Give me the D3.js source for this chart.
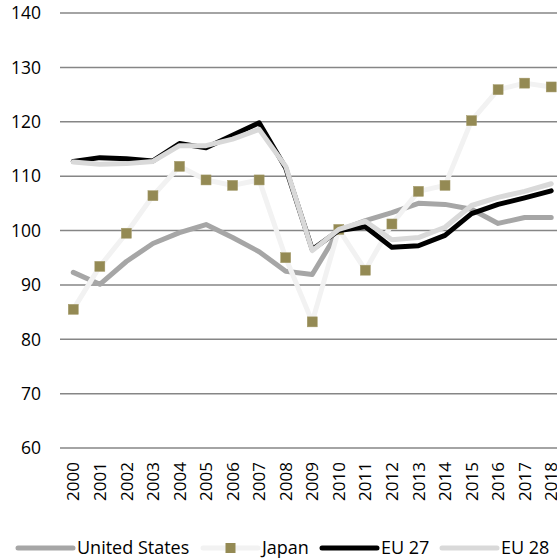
<!DOCTYPE html>
<html><head><meta charset="utf-8">
<script src="https://cdn.jsdelivr.net/npm/d3@7"></script>
<style>body{margin:0;background:#fff}svg{display:block}text{font-family:"Open Sans",sans-serif;fill:#000}</style>
</head><body><svg id="c" width="557" height="560"></svg>
<script>
const years = ["2000","2001","2002","2003","2004","2005","2006","2007","2008","2009","2010","2011","2012","2013","2014","2015","2016","2017","2018"];
const unitedStates = [92.3,90.1,94.3,97.6,99.6,101.1,98.7,96.1,92.5,91.9,100.0,101.8,103.3,105.0,104.8,103.9,101.3,102.4,102.4];
const japan = [85.5,93.4,99.5,106.4,111.8,109.3,108.3,109.3,95.0,83.2,100.2,92.7,101.2,107.2,108.3,120.2,125.9,127.1,126.4];
const eu27 = [112.7,113.4,113.2,112.8,116.0,115.2,117.5,119.8,111.5,96.5,100.0,100.7,96.9,97.2,99.1,103.1,104.8,106.0,107.3];
const eu28 = [112.6,112.2,112.3,112.7,115.6,115.6,116.8,118.6,111.8,96.3,100.2,101.7,98.3,98.7,100.6,104.6,106.1,107.2,108.6];
const yTicks = [60,70,80,90,100,110,120,130,140];
const seriesNames = ["United States","Japan","EU 27","EU 28"];

(function(){
const svg = d3.select("#c");
const pLeft = 60, pRight = 564.5, pTop = 13, pBottom = 448;
const x = d3.scaleBand().domain(years).range([pLeft, pRight]);
const y = d3.scaleLinear().domain([60,140]).range([pBottom, pTop]);
const cx = d => x(d) + x.bandwidth()/2;

svg.append("g").selectAll("line").data(yTicks).join("line")
  .attr("x1", pLeft).attr("x2", 557).attr("y1", d=>y(d)).attr("y2", d=>y(d))
  .attr("stroke", "#868686").attr("stroke-width", 1.5);
svg.append("g").selectAll("text").data(yTicks).join("text")
  .attr("x", 41).attr("y", d=>y(d)).attr("dy","0.36em").attr("text-anchor","end")
  .attr("font-size", 17.5).text(d=>d);
svg.append("g").selectAll("text").data(years).join("text")
  .attr("transform", d=>`translate(${cx(d)},462) rotate(-90)`)
  .attr("dy","0.36em").attr("text-anchor","end").attr("font-size",17).text(d=>d);

const styles = [
  {data: unitedStates, color:"#a6a6a6", w:5},
  {data: japan, color:"#f2f2f2", w:5, marker:"#948a54"},
  {data: eu27, color:"#000000", w:5},
  {data: eu28, color:"#d9d9d9", w:5}
];
const line = d3.line().x((d,i)=>cx(years[i])).y(d=>y(d));
styles.forEach(s=>{
  svg.append("path").datum(s.data).attr("d", line).attr("fill","none")
    .attr("stroke", s.color).attr("stroke-width", s.w).attr("stroke-linejoin","round").attr("stroke-linecap","round");
  if (s.marker) {
    svg.append("g").selectAll("rect").data(s.data).join("rect")
      .attr("x",(d,i)=>cx(years[i])-5).attr("y",d=>y(d)-5).attr("width",10).attr("height",10)
      .attr("fill", s.marker).attr("stroke","#a39a6a").attr("stroke-width",0.5);
  }
});

const legX = [18, 203, 322, 442];
styles.forEach((s,i)=>{
  const g = svg.append("g").attr("transform", `translate(${legX[i]},548)`);
  g.append("line").attr("x1",0).attr("x2",55).attr("y1",0).attr("y2",0)
    .attr("stroke", s.color).attr("stroke-width",5).attr("stroke-linecap","round");
  if (s.marker) g.append("rect").attr("x",22.5).attr("y",-5).attr("width",10).attr("height",10).attr("fill",s.marker);
  g.append("text").attr("x",59).attr("y",0).attr("dy","0.36em").attr("font-size",18).text(seriesNames[i]);
});
})();
</script></body></html>
